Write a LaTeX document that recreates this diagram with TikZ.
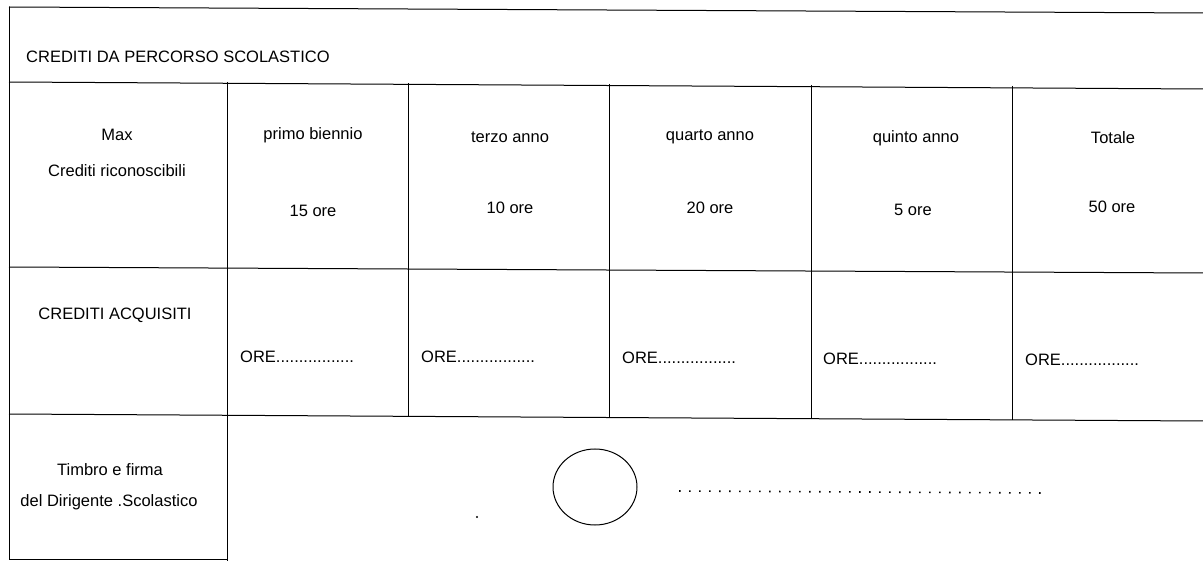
\documentclass[tikz,border=0pt]{standalone}
\usepackage{fontspec}
\setmainfont{Liberation Sans}
\usetikzlibrary{shapes.geometric}
\begin{document}
\begin{tikzpicture}[x=1pt,y=-1pt,
  grid/.style={line width=1pt,black},
  cell/.style={inner sep=0pt,font=\fontsize{16.5}{20}\selectfont},
  lcell/.style={cell,anchor=west}]
\useasboundingbox (0,0) rectangle (1203,561);
% grid lines
\draw[grid] (9,7) -- (1203,13);
\draw[grid] (9,82) -- (1203,89);
\draw[grid] (9,267) -- (1203,273);
\draw[grid] (9,414) -- (1203,421);
\draw[grid] (9,559) -- (227,559);
\draw[grid] (9,7) -- (9,559);
\draw[grid] (227,82) -- (227,561);
\draw[grid] (408,83) -- (408,416);
\draw[grid] (609,84) -- (609,418);
\draw[grid] (811,85) -- (811,419);
\draw[grid] (1012,86) -- (1012,420);
% title
\node[lcell] (title) at (26,57) {CREDITI DA PERCORSO SCOLASTICO};
% header row
\node[cell] (max) at (117,135) {Max};
\node[cell] (maxb) at (117,171) {Crediti riconoscibili};
\node[cell] (h1) at (313,135) {primo biennio};
\node[cell] (h1b) at (313,211) {15 ore};
\node[cell] (h2) at (510,137) {terzo anno};
\node[cell] (h2b) at (510,208) {10 ore};
\node[cell] (h3) at (710,137) {quarto anno};
\node[cell] (h3b) at (710,208) {20 ore};
\node[cell] (h4) at (916,138) {quinto anno};
\node[cell] (h4b) at (913,210) {5 ore};
\node[cell] (h5) at (1113,138) {Totale};
\node[cell] (h5b) at (1112,207) {50 ore};
% acquired row
\node[cell] (acq) at (115,315) {CREDITI ACQUISITI};
\node[lcell] (o1) at (240,357) {ORE.................};
\node[lcell] (o2) at (421,357) {ORE.................};
\node[lcell] (o3) at (622,358) {ORE.................};
\node[lcell] (o4) at (823,359) {ORE.................};
\node[lcell] (o5) at (1025,360) {ORE.................};
% signature row
\node[cell] (tim) at (110,470) {Timbro e firma};
\node[cell] (timb) at (109,502) {del Dirigente .Scolastico};
\node[draw,line width=1pt,ellipse,minimum width=84pt,minimum height=76pt,inner sep=0pt] (stamp) at (595,487) {};
\coordinate (d1) at (679,491);
\coordinate (d2) at (1046,493);
\draw[line width=1.6pt,dash pattern=on 1.6pt off 8.4pt] (d1) -- (d2);
\fill (477,517) circle (1.2pt);
\end{tikzpicture}
\end{document}
